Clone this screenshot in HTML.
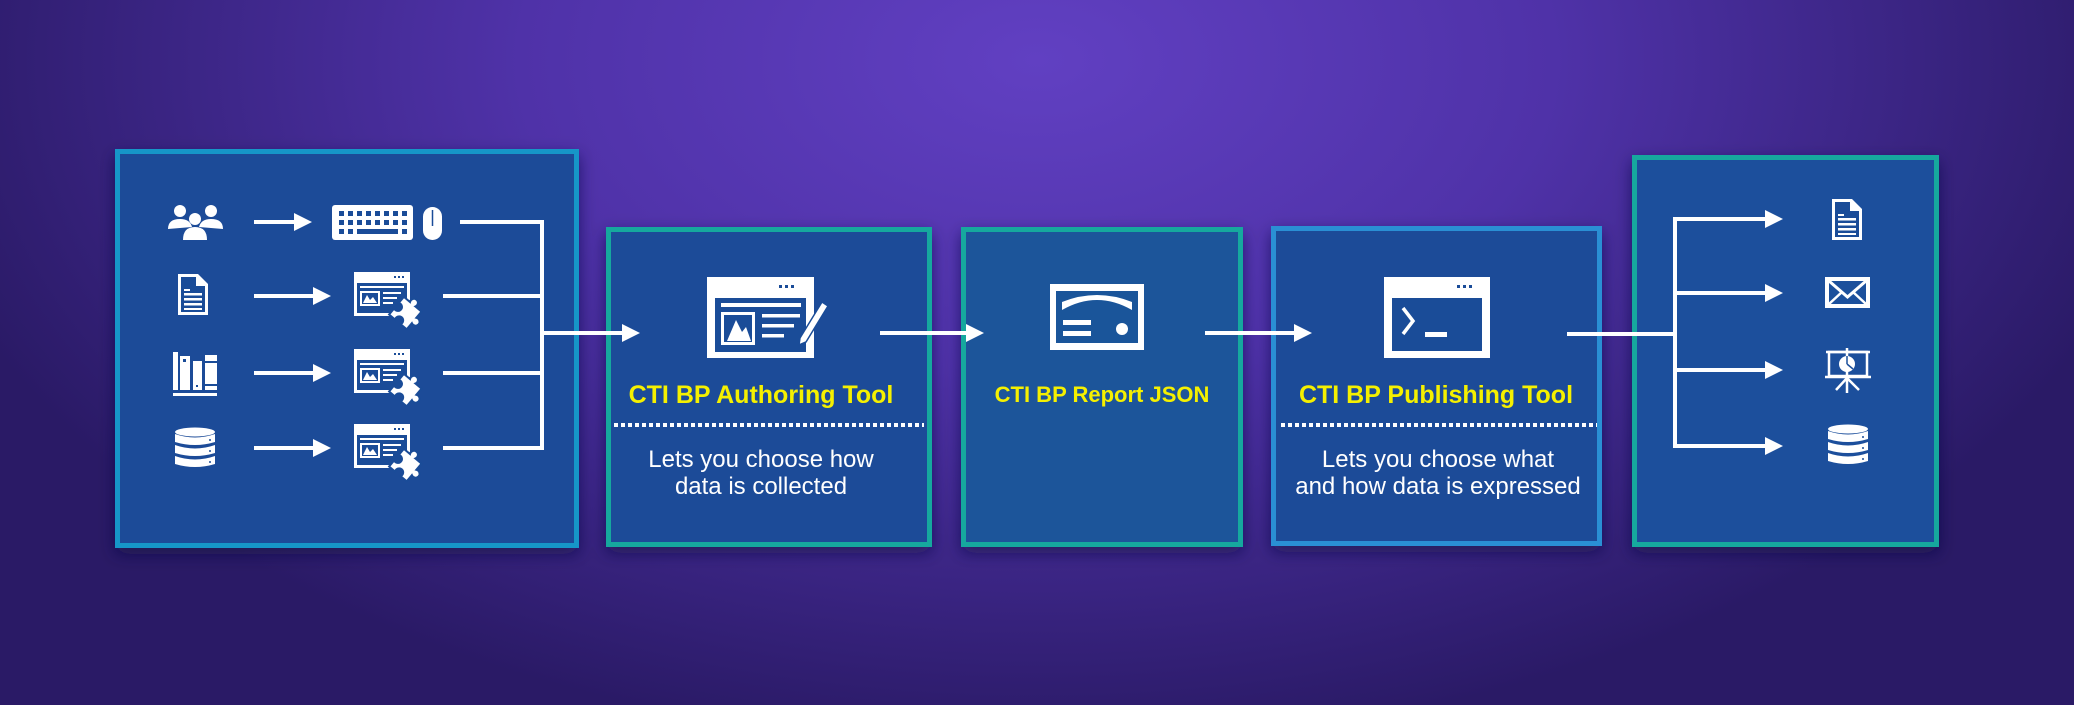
<!DOCTYPE html>
<html><head><meta charset="utf-8"><style>
html,body{margin:0;padding:0;width:2074px;height:705px;overflow:hidden;background:#3a2488;}
svg{display:block}
text{font-family:"Liberation Sans",Arial,sans-serif;}
</style></head><body>
<svg width="2074" height="705" viewBox="0 0 2074 705" xmlns="http://www.w3.org/2000/svg">
<defs>
<radialGradient id="bg" cx="1037" cy="60" r="1150" gradientUnits="userSpaceOnUse" gradientTransform="translate(1037 60) scale(1 0.6) translate(-1037 -60)">
<stop offset="0" stop-color="#6140c2"/>
<stop offset="0.45" stop-color="#4f32a8"/>
<stop offset="1" stop-color="#2a1a66"/>
</radialGradient>
<filter id="sh" x="-20%" y="-20%" width="140%" height="140%"><feDropShadow dx="0" dy="6" stdDeviation="8" flood-color="#140a40" flood-opacity="0.6"/></filter>
<g id="ah"><polygon points="0,-9 18,0 0,9" fill="#fff"/></g>
<g id="wp">
<rect x="0" y="0" width="56" height="44" fill="#fff"/>
<rect x="3" y="11" width="50" height="30" fill="#1a4c98"/>
<rect x="40" y="4" width="2" height="2" fill="#1a4c98"/><rect x="44" y="4" width="2" height="2" fill="#1a4c98"/><rect x="48" y="4" width="2" height="2" fill="#1a4c98"/>
<rect x="6" y="14" width="44" height="2" fill="#fff"/>
<rect x="6" y="19" width="20" height="15" fill="#fff"/><rect x="8" y="21" width="16" height="11" fill="#1a4c98"/>
<polygon points="9,31 13,23 16,28 19,25 23,31" fill="#fff"/>
<rect x="29" y="20" width="18" height="2" fill="#fff"/><rect x="29" y="25" width="14" height="2" fill="#fff"/><rect x="29" y="30" width="10" height="2" fill="#fff"/>
<g fill="#fff" stroke="#1a4c98" stroke-width="2">
<path d="M40,30 h8 a4,4 0 1 1 7,0 h8 v8 a4,4 0 1 1 0,7 v8 h-8 a4,4 0 1 0 -7,0 h-8 v-8 a4,4 0 1 0 0,-7 z" transform="rotate(40 52 41)"/>
</g>
</g>
<g id="doc">
<path d="M0,0 h20 l10,10 v31 h-30 z" fill="#fff"/>
<path d="M3,3 h15 v9 h9 v26 h-24 z" fill="#1a4c98"/>
<rect x="6" y="15" width="6" height="2" fill="#fff"/>
<rect x="6" y="19" width="18" height="2.5" fill="#fff"/><rect x="6" y="24" width="18" height="2.5" fill="#fff"/><rect x="6" y="29" width="18" height="2.5" fill="#fff"/><rect x="6" y="34" width="18" height="2" fill="#fff"/>
</g>
<g id="db" fill="#fff">
<ellipse cx="20" cy="4" rx="20" ry="4.5"/>
<path d="M0,6 q20,7 40,0 v8 q-20,6 -40,0 z"/>
<path d="M0,17 q20,7 40,0 v8 q-20,6 -40,0 z"/>
<path d="M0,28 q20,7 40,0 v8 q-20,6 -40,0 z"/>
<circle cx="35" cy="12" r="1" fill="#1a4c98"/><circle cx="35" cy="23" r="1" fill="#1a4c98"/><circle cx="35" cy="34" r="1" fill="#1a4c98"/>
</g>
</defs>
<rect width="2074" height="705" fill="url(#bg)"/>

<g filter="url(#sh)">
<rect x="117.5" y="151.5" width="459" height="394" fill="#1a4c98" stroke="#1796c8" stroke-width="5"/>
<rect x="608.5" y="229.5" width="321" height="315" fill="#1a4c98" stroke="#13a89e" stroke-width="5"/>
<rect x="963.5" y="229.5" width="277" height="315" fill="#1a559a" stroke="#13a89e" stroke-width="5"/>
<rect x="1273.5" y="228.5" width="326" height="315" fill="#1a4c98" stroke="#2b8fd4" stroke-width="5"/>
<rect x="1634.5" y="157.5" width="302" height="387" fill="#1c509c" stroke="#13a89e" stroke-width="5"/>
</g>

<g fill="#fff">
<circle cx="180" cy="211" r="6"/><circle cx="211" cy="211" r="6"/><circle cx="195" cy="219" r="6"/>
<path d="M168,229 q0,-10 12,-10 q10,0 12,8 z"/><path d="M223,229 q0,-10 -12,-10 q-10,0 -12,8 z"/>
<path d="M183,240 q0,-13 12,-13 q12,0 12,13 z"/>
</g>
<use href="#doc" x="178" y="274"/>
<g fill="#fff">
<rect x="173" y="352" width="5" height="38"/><rect x="180" y="356" width="10" height="34"/><rect x="193" y="361" width="9" height="29"/><rect x="205" y="355" width="12" height="35"/><rect x="173" y="393" width="44" height="3"/>
</g>
<g fill="#1a4c98"><rect x="183" y="359" width="3" height="3"/><rect x="196" y="385" width="2" height="2"/><rect x="205" y="361" width="12" height="2"/><rect x="205" y="384" width="12" height="2"/></g>
<use href="#db" x="175" y="428"/>

<g stroke="#fff" stroke-width="4">
<line x1="254" y1="222" x2="296" y2="222"/>
<line x1="254" y1="296" x2="316" y2="296"/>
<line x1="254" y1="373" x2="316" y2="373"/>
<line x1="254" y1="448" x2="316" y2="448"/>
</g>
<use href="#ah" x="294" y="222"/><use href="#ah" x="313" y="296"/><use href="#ah" x="313" y="373"/><use href="#ah" x="313" y="448"/>

<rect x="332" y="205" width="81" height="35" rx="3" fill="#fff"/>
<g fill="#1a4c98">
<rect x="339" y="211" width="5" height="5"/><rect x="348" y="211" width="5" height="5"/><rect x="357" y="211" width="5" height="5"/><rect x="366" y="211" width="5" height="5"/><rect x="375" y="211" width="5" height="5"/><rect x="384" y="211" width="5" height="5"/><rect x="393" y="211" width="5" height="5"/><rect x="402" y="211" width="5" height="5"/>
<rect x="339" y="220" width="5" height="5"/><rect x="348" y="220" width="5" height="5"/><rect x="357" y="220" width="5" height="5"/><rect x="366" y="220" width="5" height="5"/><rect x="375" y="220" width="5" height="5"/><rect x="384" y="220" width="5" height="5"/><rect x="393" y="220" width="5" height="5"/><rect x="402" y="220" width="5" height="5"/>
<rect x="339" y="229" width="5" height="5"/><rect x="348" y="229" width="5" height="5"/><rect x="357" y="229" width="36" height="5"/><rect x="393" y="229" width="5" height="5"/><rect x="402" y="229" width="5" height="5"/>
</g>
<rect x="423" y="207" width="19" height="33" rx="9.5" fill="#fff"/>
<line x1="432.5" y1="210" x2="432.5" y2="226" stroke="#1a4c98" stroke-width="1.5"/>
<use href="#wp" x="354" y="272"/><use href="#wp" x="354" y="349"/><use href="#wp" x="354" y="424"/>

<g stroke="#fff" stroke-width="4" fill="none">
<polyline points="460,222 542,222 542,448 443,448"/>
<line x1="443" y1="296" x2="542" y2="296"/>
<line x1="443" y1="373" x2="542" y2="373"/>
<line x1="542" y1="333" x2="624" y2="333"/>
<line x1="880" y1="333" x2="968" y2="333"/>
<line x1="1205" y1="333" x2="1296" y2="333"/>
<line x1="1567" y1="334" x2="1675" y2="334"/>
<line x1="1675" y1="217" x2="1675" y2="448"/>
<line x1="1673" y1="219" x2="1766" y2="219"/>
<line x1="1675" y1="293" x2="1766" y2="293"/>
<line x1="1675" y1="370" x2="1766" y2="370"/>
<line x1="1673" y1="446" x2="1766" y2="446"/>
</g>
<use href="#ah" x="622" y="333"/><use href="#ah" x="966" y="333"/><use href="#ah" x="1294" y="333"/>
<use href="#ah" x="1765" y="219"/><use href="#ah" x="1765" y="293"/><use href="#ah" x="1765" y="370"/><use href="#ah" x="1765" y="446"/>

<rect x="707" y="277" width="107" height="81" fill="#fff"/>
<rect x="715" y="298" width="91" height="54" fill="#1a4c98"/>
<g fill="#1a4c98"><rect x="779" y="285" width="3" height="3"/><rect x="785" y="285" width="3" height="3"/><rect x="791" y="285" width="3" height="3"/></g>
<rect x="721" y="303" width="80" height="4" fill="#fff"/>
<rect x="721" y="312" width="34" height="33" fill="#fff"/><rect x="724" y="315" width="28" height="27" fill="#1a4c98"/>
<polygon points="727,341 736,320 742,332 746,327 751,341" fill="#fff"/>
<rect x="762" y="314" width="38" height="3.5" fill="#fff"/><rect x="762" y="324" width="32" height="3.5" fill="#fff"/><rect x="762" y="334" width="22" height="3.5" fill="#fff"/>
<path d="M822,302 l6,4 l-22,36 l-7,3 l1,-7 z" fill="#fff" stroke="#1a4c98" stroke-width="1.5"/>

<rect x="1050" y="284" width="94" height="66" fill="#fff"/>
<rect x="1056" y="291" width="82" height="52" fill="#1a559a"/>
<path d="M1062,310 q35,-20 70,0 v-8 q-35,-14 -70,0 z" fill="#fff"/>
<rect x="1063" y="320" width="28" height="5" fill="#fff"/><rect x="1063" y="331" width="28" height="5" fill="#fff"/>
<circle cx="1122" cy="329" r="6" fill="#fff"/>

<rect x="1384" y="277" width="106" height="81" fill="#fff"/>
<rect x="1392" y="298" width="90" height="53" fill="#1a4c98"/>
<g fill="#1a4c98"><rect x="1457" y="285" width="3" height="3"/><rect x="1463" y="285" width="3" height="3"/><rect x="1469" y="285" width="3" height="3"/></g>
<polyline points="1403,308 1413,321 1403,334" fill="none" stroke="#fff" stroke-width="3.5"/>
<rect x="1425" y="332" width="22" height="5" fill="#fff"/>

<g font-weight="bold" fill="#f5f000" text-anchor="middle">
<text x="761" y="403" font-size="25">CTI BP Authoring Tool</text>
<text x="1102" y="402" font-size="22">CTI BP Report JSON</text>
<text x="1436" y="403" font-size="25">CTI BP Publishing Tool</text>
</g>
<g stroke="#fff" stroke-width="4" stroke-dasharray="4 3">
<line x1="614" y1="425" x2="924" y2="425"/>
<line x1="1281" y1="425" x2="1597" y2="425"/>
</g>
<g fill="#fff" font-size="24" text-anchor="middle">
<text x="761" y="467">Lets you choose how</text>
<text x="761" y="494">data is collected</text>
<text x="1438" y="467">Lets you choose what</text>
<text x="1438" y="494">and how data is expressed</text>
</g>

<use href="#doc" x="1832" y="199"/>
<rect x="1825" y="277" width="45" height="31" fill="#fff"/>
<rect x="1829" y="281" width="37" height="23" fill="#1c509c"/>
<polyline points="1829,281 1847.5,297 1866,281" fill="none" stroke="#fff" stroke-width="3"/>
<line x1="1829" y1="304" x2="1842" y2="292" stroke="#fff" stroke-width="2.5"/><line x1="1866" y1="304" x2="1853" y2="292" stroke="#fff" stroke-width="2.5"/>
<g stroke="#fff" fill="none" stroke-width="2.5">
<line x1="1826" y1="352" x2="1870" y2="352"/>
<rect x="1829" y="352" width="38" height="24"/>
<line x1="1825" y1="377" x2="1871" y2="377"/>
<line x1="1847" y1="348" x2="1847" y2="393"/>
<line x1="1847" y1="378" x2="1836" y2="390"/><line x1="1847" y1="378" x2="1859" y2="390"/>
</g>
<circle cx="1847" cy="364" r="8" fill="#fff"/>
<path d="M1847,364 v-8 M1847,364 l6,5" stroke="#1c509c" stroke-width="1.5"/>
<use href="#db" x="1828" y="425"/>
</svg>
</body></html>
